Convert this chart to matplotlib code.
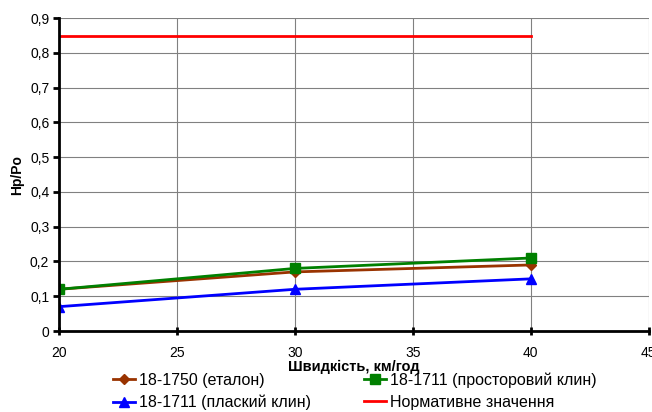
import matplotlib
matplotlib.use("Agg")
import matplotlib.pyplot as plt
from matplotlib.ticker import FuncFormatter

# data
speed = [20, 30, 40]
etalon = [0.12, 0.17, 0.19]
prostor = [0.12, 0.18, 0.21]
plaskyi = [0.07, 0.12, 0.15]
norma = [0.85, 0.85, 0.85]

labels = ["18-1750 (еталон)", "18-1711 (просторовий клин)",
          "18-1711 (плаский клин)", "Нормативне значення"]

plt.rcParams['font.family'] = ['Liberation Sans', 'DejaVu Sans']

fig = plt.figure(figsize=(6.52, 4.12), dpi=100)
ax = fig.add_axes([0.0905, 0.1966, 0.9045, 0.7594])

ax.plot(speed, etalon, color='#993300', marker='D', markersize=5, lw=2, label=labels[0])
ax.plot(speed, prostor, color='#008000', marker='s', markersize=7, lw=2, label=labels[1])
ax.plot(speed, plaskyi, color='#0000FF', marker='^', markersize=7, lw=2, label=labels[2])
ax.plot(speed, norma, color='#FF0000', lw=2, label=labels[3])

ax.set_xlim(20, 45)
ax.set_ylim(0, 0.9)
ax.set_xticks([20, 25, 30, 35, 40, 45])
ax.set_yticks([i / 10 for i in range(10)])
ax.yaxis.set_major_formatter(FuncFormatter(lambda v, p: ("%.1f" % v).replace('.', ',') if v else "0"))
ax.grid(True, color='#808080', lw=0.8)
ax.set_axisbelow(True)

for s in ['top', 'right']:
    ax.spines[s].set_visible(False)
for s in ['left', 'bottom']:
    ax.spines[s].set_linewidth(2)
ax.tick_params(axis='y', direction='out', length=4, width=2, labelsize=10, pad=3)
ax.tick_params(axis='x', direction='inout', length=6, width=2, labelsize=10, pad=8)

ax.set_xlabel("Швидкість, км/год", fontsize=10.5, fontweight='bold', labelpad=0)
ax.set_ylabel("Hp/Po", fontsize=10, fontweight='bold', labelpad=4)

handles, lbls = ax.get_legend_handles_labels()
order = [0, 2, 1, 3]
fig.legend([handles[i] for i in order], [lbls[i] for i in order], ncol=2,
           loc='upper left', bbox_to_anchor=(113 / 652, 1 - 372 / 412), frameon=False,
           fontsize=11.5, handlelength=1.4, handletextpad=0.25, columnspacing=3.3,
           labelspacing=0.45, borderpad=0, borderaxespad=0)

fig.savefig("out.png", dpi=100)
